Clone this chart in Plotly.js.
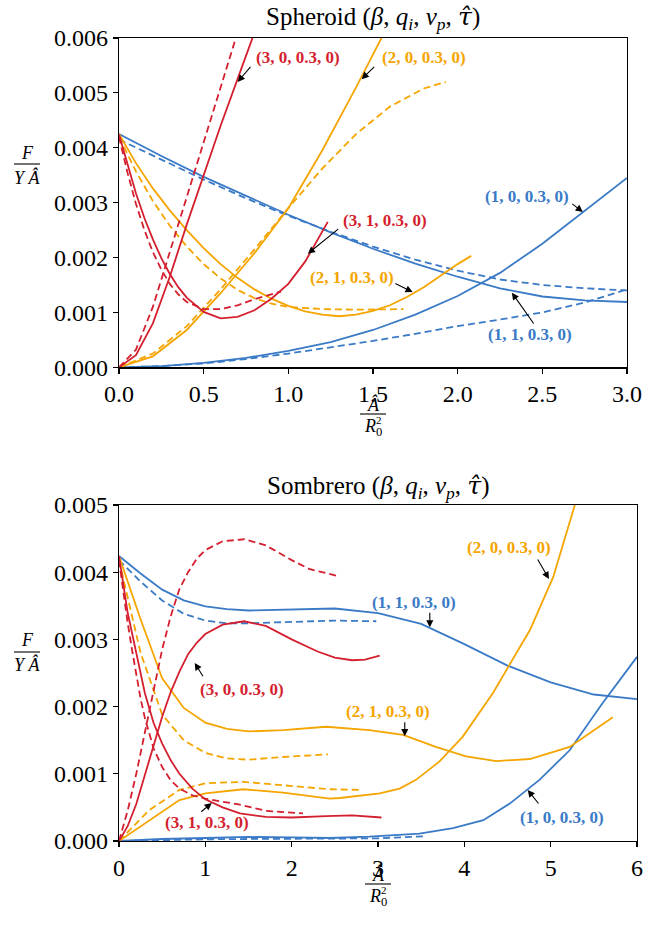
<!DOCTYPE html>
<html><head><meta charset="utf-8">
<script src="https://cdn.plot.ly/plotly-3.0.1.min.js"></script>
<style>body{margin:0;padding:0;background:#fff}#chart{width:645px;height:928px}</style>
</head><body><div id="chart"></div>
<script>
// ---------------- Spheroid (top panel) ----------------
const sph_x_b = [0,0.25,0.5,0.75,1,1.25,1.5,1.75,2,2.25,2.5,2.75,3];
const sph_b11_solid = [0.00425,0.00385,0.00347,0.00312,0.00278,0.00246,0.00216,0.00189,0.00165,0.00144,0.00129,0.00122,0.00119];
const sph_b11_dash  = [0.00415,0.00378,0.00342,0.00308,0.00276,0.00247,0.00220,0.00196,0.00176,0.00160,0.00150,0.00144,0.00140];
const sph_b10_solid = [0,0.00002,0.00008,0.00017,0.00030,0.00046,0.00068,0.00096,0.00130,0.00172,0.00225,0.00285,0.00345];
const sph_b10_dash  = [0,0.00002,0.00007,0.00015,0.00025,0.00036,0.00048,0.00061,0.00075,0.00087,0.00100,0.00118,0.00142];

const sph_x_r30s = [0,0.1,0.2,0.3,0.4,0.5,0.6,0.7,0.8];
const sph_r30_solid = [0,0.00022,0.00080,0.00165,0.00260,0.00350,0.00440,0.00525,0.00610];
const sph_x_r30d = [0,0.1,0.2,0.3,0.4,0.5,0.6,0.7];
const sph_r30_dash = [0,0.00032,0.00110,0.00210,0.00310,0.00410,0.00510,0.00610];

const sph_x_r31s = [0,0.05,0.1,0.15,0.2,0.25,0.3,0.35,0.4,0.5,0.6,0.7,0.8,0.9,1.0,1.1,1.233];
const sph_r31_solid = [0.00424,0.00368,0.00317,0.00272,0.00233,0.00199,0.00170,0.00146,0.00127,0.00101,0.00089,0.00092,0.00104,0.00125,0.00152,0.00193,0.00265];
const sph_x_r31d = [0,0.05,0.1,0.15,0.2,0.25,0.3,0.35,0.4,0.5,0.6,0.7,0.8,0.9,0.957];
const sph_r31_dash = [0.00420,0.00355,0.00298,0.00250,0.00210,0.00178,0.00152,0.00133,0.00119,0.00106,0.00106,0.00113,0.00124,0.00133,0.00138];

const sph_x_o21s = [0,0.1,0.2,0.3,0.4,0.5,0.6,0.7,0.8,0.9,1.0,1.1,1.2,1.3,1.4,1.5,1.6,1.7,1.8,1.9,2.0,2.08];
const sph_o21_solid = [0.00425,0.00372,0.00326,0.00286,0.00250,0.00217,0.00188,0.00163,0.00142,0.00125,0.00112,0.00102,0.00096,0.00093,0.00096,0.00103,0.00113,0.00128,0.00146,0.00167,0.00188,0.00203];
const sph_x_o21d = [0,0.1,0.2,0.3,0.4,0.5,0.6,0.7,0.8,0.9,1.0,1.2,1.4,1.68];
const sph_o21_dash = [0.00420,0.00357,0.00303,0.00258,0.00220,0.00188,0.00162,0.00141,0.00126,0.00116,0.00110,0.00106,0.00105,0.00106];

const sph_x_o20s = [0,0.2,0.4,0.6,0.8,1.0,1.2,1.4,1.6];
const sph_o20_solid = [0,0.00020,0.00068,0.00135,0.00208,0.00290,0.00395,0.00510,0.00630];
const sph_x_o20d = [0,0.2,0.4,0.6,0.8,1.0,1.2,1.4,1.6,1.8,1.93];
const sph_o20_dash = [0,0.00025,0.00075,0.00142,0.00215,0.00290,0.00362,0.00425,0.00475,0.00508,0.00520];

// ---------------- Sombrero (bottom panel) ----------------
const som_x_b11s = [0,0.25,0.5,0.75,1,1.25,1.5,2,2.5,3,3.5,4,4.5,5,5.5,6];
const som_b11_solid = [0.00424,0.00398,0.00374,0.00358,0.00349,0.00345,0.00343,0.00344,0.00346,0.00339,0.00323,0.00293,0.00261,0.00236,0.00218,0.00211];
const som_x_b11d = [0,0.25,0.5,0.75,1,1.25,1.5,2,2.5,2.98];
const som_b11_dash = [0.00418,0.00386,0.00358,0.00338,0.00328,0.00324,0.00324,0.00326,0.00328,0.00327];

const som_x_r30d = [0,0.1,0.2,0.3,0.4,0.5,0.6,0.7,0.8,0.9,1.0,1.2,1.45,1.7,2.0,2.2,2.54];
const som_r30_dash = [0,0.00045,0.00100,0.00160,0.00225,0.00285,0.00335,0.00375,0.00400,0.00420,0.00433,0.00446,0.00449,0.00440,0.00418,0.00405,0.00394];
const som_x_r30s = [0,0.1,0.2,0.3,0.4,0.5,0.6,0.7,0.8,0.9,1.0,1.2,1.45,1.7,2.0,2.3,2.5,2.7,2.85,3.02];
const som_r30_solid = [0,0.00022,0.00055,0.00098,0.00143,0.00185,0.00222,0.00252,0.00278,0.00295,0.00308,0.00322,0.00327,0.00320,0.00300,0.00282,0.00273,0.00269,0.00270,0.00276];

const som_x_r31s = [0,0.1,0.2,0.3,0.4,0.5,0.6,0.7,0.85,1.0,1.2,1.4,1.7,2.0,2.4,2.7,3.04];
const som_r31_solid = [0.00424,0.00340,0.00280,0.00220,0.00176,0.00145,0.00120,0.00100,0.00078,0.00062,0.00050,0.00041,0.00036,0.00035,0.00037,0.00038,0.00035];
const som_x_r31d = [0,0.05,0.1,0.15,0.2,0.25,0.3,0.4,0.5,0.6,0.7,0.85,1.0,1.2,1.4,1.7,2.13];
const som_r31_dash = [0.00418,0.00370,0.00325,0.00285,0.00245,0.00212,0.00183,0.00138,0.00110,0.00090,0.00078,0.00068,0.00063,0.00058,0.00054,0.00045,0.00041];

const som_x_o21s = [0,0.25,0.5,0.75,1.0,1.25,1.5,1.9,2.4,2.9,3.29,3.67,4.02,4.37,4.76,5.22,5.72];
const som_o21_solid = [0.00424,0.00330,0.00242,0.00198,0.00176,0.00167,0.00163,0.00165,0.00170,0.00165,0.00158,0.00140,0.00126,0.00119,0.00122,0.00140,0.00184];
const som_x_o21d = [0,0.25,0.5,0.75,1.0,1.25,1.5,1.9,2.42];
const som_o21_dash = [0.00418,0.00280,0.00188,0.00150,0.00131,0.00123,0.00121,0.00125,0.00129];

const som_x_o20s = [0,0.35,0.7,1.0,1.44,1.9,2.44,2.56,3.02,3.25,3.44,3.71,3.98,4.33,4.76,5.03,5.28];
const som_o20_solid = [0,0.00031,0.00061,0.00071,0.00077,0.00072,0.00063,0.00064,0.00071,0.00078,0.00091,0.00118,0.00155,0.00220,0.00314,0.00393,0.00500];
const som_x_o20d = [0,0.35,0.7,1.01,1.44,1.9,2.44,2.79];
const som_o20_dash = [0,0.00046,0.00076,0.00086,0.00088,0.00083,0.00077,0.00076];

const som_x_b10s = [0,0.5,1.0,1.5,2.0,2.44,2.9,3.48,3.87,4.22,4.53,4.87,5.22,5.6,6.0];
const som_b10_solid = [0,0.00003,0.000045,0.00006,0.000055,0.000045,0.000065,0.00011,0.00019,0.00031,0.00056,0.00091,0.00135,0.00205,0.00274];
const som_x_b10d = [0,0.5,1,1.5,2,2.5,3,3.52];
const som_b10_dash = [0,0.000015,0.000025,0.00003,0.00003,0.00003,0.00004,0.00007];

// ---------------- labels ----------------
const curveLabels = ["(3, 0, 0.3, 0)","(2, 0, 0.3, 0)","(3, 1, 0.3, 0)","(2, 1, 0.3, 0)","(1, 0, 0.3, 0)","(1, 1, 0.3, 0)"];

const RED = '#d41f2f', ORANGE = '#f5a500', BLUE = '#3a7ac6';
const FONT = 'Liberation Serif';
const LW = 1.8;
const DASH = '7px,4px';

function tr(x, y, color, dashed, xa, ya) {
  return {x: x, y: y, type: 'scatter', mode: 'lines', xaxis: xa, yaxis: ya,
    line: {color: color, width: LW, dash: dashed ? DASH : 'solid', shape: 'linear'},
    hoverinfo: 'skip', showlegend: false};
}

const data = [
  tr(sph_x_b, sph_b11_solid, BLUE, false, 'x', 'y'),
  tr(sph_x_b, sph_b11_dash, BLUE, true, 'x', 'y'),
  tr(sph_x_b, sph_b10_solid, BLUE, false, 'x', 'y'),
  tr(sph_x_b, sph_b10_dash, BLUE, true, 'x', 'y'),
  tr(sph_x_o21s, sph_o21_solid, ORANGE, false, 'x', 'y'),
  tr(sph_x_o21d, sph_o21_dash, ORANGE, true, 'x', 'y'),
  tr(sph_x_o20s, sph_o20_solid, ORANGE, false, 'x', 'y'),
  tr(sph_x_o20d, sph_o20_dash, ORANGE, true, 'x', 'y'),
  tr(sph_x_r31s, sph_r31_solid, RED, false, 'x', 'y'),
  tr(sph_x_r31d, sph_r31_dash, RED, true, 'x', 'y'),
  tr(sph_x_r30s, sph_r30_solid, RED, false, 'x', 'y'),
  tr(sph_x_r30d, sph_r30_dash, RED, true, 'x', 'y'),

  tr(som_x_b11s, som_b11_solid, BLUE, false, 'x2', 'y2'),
  tr(som_x_b11d, som_b11_dash, BLUE, true, 'x2', 'y2'),
  tr(som_x_b10s, som_b10_solid, BLUE, false, 'x2', 'y2'),
  tr(som_x_b10d, som_b10_dash, BLUE, true, 'x2', 'y2'),
  tr(som_x_o21s, som_o21_solid, ORANGE, false, 'x2', 'y2'),
  tr(som_x_o21d, som_o21_dash, ORANGE, true, 'x2', 'y2'),
  tr(som_x_o20s, som_o20_solid, ORANGE, false, 'x2', 'y2'),
  tr(som_x_o20d, som_o20_dash, ORANGE, true, 'x2', 'y2'),
  tr(som_x_r31s, som_r31_solid, RED, false, 'x2', 'y2'),
  tr(som_x_r31d, som_r31_dash, RED, true, 'x2', 'y2'),
  tr(som_x_r30s, som_r30_solid, RED, false, 'x2', 'y2'),
  tr(som_x_r30d, som_r30_dash, RED, true, 'x2', 'y2')
];

// pixel -> paper helpers (layout placement only)
const ML = 119, MT = 38, PW = 518, PH = 803;
const px = p => (p - ML) / PW;
const py = p => (MT + PH - p) / PH;

function axisBase(extra) {
  return Object.assign({
    showline: true, linecolor: 'black', linewidth: 1.2, mirror: true,
    ticks: 'outside', ticklen: 5, tickwidth: 1.2, tickcolor: 'black',
    showgrid: false, zeroline: false,
    tickfont: {family: FONT, size: 24, color: 'black'}, fixedrange: true
  }, extra);
}

function lbl(text, x, y, color, xr, yr) {
  return {text: '<b>' + text + '</b>', x: x, y: y, xref: xr, yref: yr, showarrow: false,
    font: {family: FONT, size: 17, color: color}, xanchor: 'center', yanchor: 'middle'};
}
function arr(hx, hy, tx, ty, xr, yr) {
  return {text: '', x: hx, y: hy, ax: tx, ay: ty, xref: xr, yref: yr, axref: xr, ayref: yr,
    showarrow: true, arrowhead: 2, arrowsize: 1.3, arrowwidth: 1.1, arrowcolor: 'black', standoff: 0, startstandoff: 0};
}
function txt(text, xp, yp, size) {
  return {text: text, x: px(xp), y: py(yp), xref: 'paper', yref: 'paper', showarrow: false,
    font: {family: FONT, size: size, color: 'black'}, xanchor: 'center', yanchor: 'middle'};
}
function bar(x0, x1, y) {
  return {type: 'line', xref: 'paper', yref: 'paper', x0: px(x0), x1: px(x1), y0: py(y), y1: py(y),
    line: {color: 'black', width: 1.1}};
}

const TAU = '<span style="font-family:DejaVu Serif"><i>τ\u0302</i></span>';
const annotations = [
  txt('Spheroid (<i>β</i>, <i>q<sub>i</sub></i>, <i>ν<sub>p</sub></i>, ' + TAU + ')', 373, 18, 25),
  txt('Sombrero (<i>β</i>, <i>q<sub>i</sub></i>, <i>ν<sub>p</sub></i>, ' + TAU + ')', 378, 487, 25),
  // y-labels
  txt('<i>F</i>', 27, 153, 18), txt('<i>Y Â</i>', 27, 177, 18),
  txt('<i>F</i>', 27, 640, 18), txt('<i>Y Â</i>', 27, 664, 18),
  // x-labels
  txt('<i>Â</i>', 373, 404, 18), txt('<i>R</i><sub>0</sub>', 373, 427, 18), txt('2', 379, 420, 11),
  txt('<i>Â</i>', 378, 874, 18), txt('<i>R</i><sub>0</sub>', 378, 897, 18), txt('2', 384, 890, 11),

  // top panel curve labels
  lbl(curveLabels[0], 1.055, 0.00564, RED, 'x', 'y'),
  arr(0.701, 0.00520, 0.784, 0.00550, 'x', 'y'),
  lbl(curveLabels[1], 1.80, 0.00564, ORANGE, 'x', 'y'),
  arr(1.433, 0.00525, 1.516, 0.00550, 'x', 'y'),
  lbl(curveLabels[2], 1.57, 0.00267, RED, 'x', 'y'),
  arr(1.115, 0.00207, 1.303, 0.00254, 'x', 'y'),
  lbl(curveLabels[3], 1.374, 0.00163, ORANGE, 'x', 'y'),
  arr(1.734, 0.00137, 1.623, 0.00154, 'x', 'y'),
  lbl(curveLabels[4], 2.41, 0.00312, BLUE, 'x', 'y'),
  arr(2.739, 0.00283, 2.668, 0.00300, 'x', 'y'),
  lbl(curveLabels[5], 2.426, 0.00059, BLUE, 'x', 'y'),
  arr(2.32, 0.00136, 2.455, 0.00077, 'x', 'y'),

  // bottom panel curve labels
  lbl(curveLabels[5], 3.414, 0.003556, BLUE, 'x2', 'y2'),
  arr(3.6, 0.00318, 3.6, 0.00342, 'x2', 'y2'),
  lbl(curveLabels[1], 4.514, 0.004375, ORANGE, 'x2', 'y2'),
  arr(4.98, 0.00390, 4.84, 0.00421, 'x2', 'y2'),
  lbl(curveLabels[3], 3.118, 0.00192, ORANGE, 'x2', 'y2'),
  arr(3.31, 0.00156, 3.31, 0.00179, 'x2', 'y2'),
  lbl(curveLabels[4], 5.128, 0.000357, BLUE, 'x2', 'y2'),
  arr(4.734, 0.000759, 4.873, 0.000536, 'x2', 'y2'),
  lbl(curveLabels[0], 1.421, 0.00226, RED, 'x2', 'y2'),
  arr(0.877, 0.00265, 0.983, 0.00243, 'x2', 'y2'),
  lbl(curveLabels[2], 1.016, 0.000268, RED, 'x2', 'y2'),
  arr(1.074, 0.000565, 0.935, 0.000417, 'x2', 'y2')
];

const shapes = [
  bar(14, 40, 164), bar(14, 40, 652),
  bar(360, 386, 414), bar(365, 391, 884)
];

const layout = {
  width: 645, height: 928,
  margin: {l: ML, r: 645 - ML - PW, t: MT, b: 928 - MT - PH, pad: 0},
  paper_bgcolor: 'white', plot_bgcolor: 'white',
  showlegend: false,
  font: {family: FONT, color: 'black'},
  xaxis: axisBase({domain: [0, 508 / PW], anchor: 'y', range: [0, 3], tick0: 0, dtick: 0.5, tickformat: '.1f'}),
  yaxis: axisBase({domain: [py(367.3), 1], anchor: 'x', range: [0, 0.006], tick0: 0, dtick: 0.001, tickformat: '.3f'}),
  xaxis2: axisBase({domain: [0, 1], anchor: 'y2', range: [0, 6], tick0: 0, dtick: 1, tickformat: 'd'}),
  yaxis2: axisBase({domain: [0, py(505)], anchor: 'x2', range: [0, 0.005], tick0: 0, dtick: 0.001, tickformat: '.3f'}),
  annotations: annotations,
  shapes: shapes
};

Plotly.newPlot('chart', data, layout, {staticPlot: true, displayModeBar: false});
</script>
</body></html>
